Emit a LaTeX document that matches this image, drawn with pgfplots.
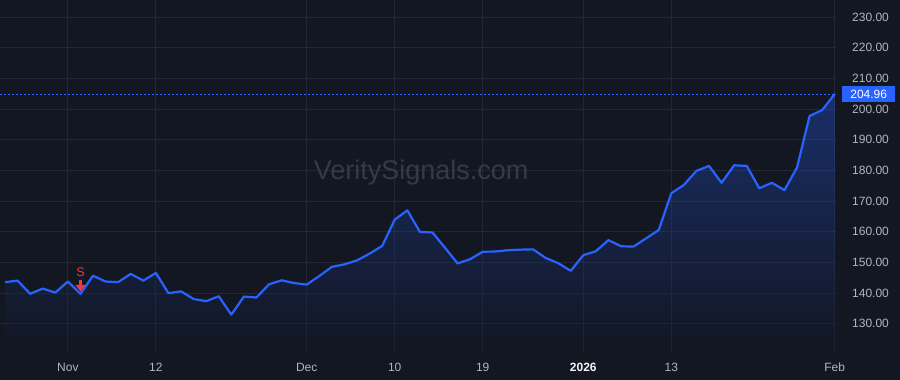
\documentclass[border=0pt]{standalone}
\usepackage{pgfplots}
\pgfplotsset{compat=1.18}
\usepackage{pgfplotstable}
\usetikzlibrary{arrows.meta}
\usepackage{fontspec}
\setmainfont{Liberation Sans}
\definecolor{bg}{HTML}{131722}
\definecolor{gridc}{HTML}{232733}
\definecolor{tvblue}{HTML}{2962FF}
\definecolor{lbl}{HTML}{B2B5BE}
\definecolor{wm}{HTML}{363A45}
\definecolor{sred}{HTML}{F23645}

\pgfplotstableread{
idx val
0 143.6
1 144.1
2 139.8
3 141.5
4 140.2
5 143.8
6 139.8
7 145.7
8 143.8
9 143.6
10 146.3
11 144.1
12 146.6
13 140.0
14 140.6
15 138.1
16 137.4
17 139.0
18 133.0
19 138.9
20 138.6
21 142.9
22 144.2
23 143.3
24 142.8
25 145.6
26 148.6
27 149.4
28 150.7
29 152.9
30 155.4
31 164.0
32 167.0
33 160.0
34 159.8
35 154.8
36 149.7
37 151.1
38 153.5
39 153.6
40 154.0
41 154.2
42 154.3
43 151.5
44 149.8
45 147.3
46 152.4
47 153.7
48 157.3
49 155.3
50 155.2
51 157.9
52 160.6
53 172.6
54 175.3
55 179.9
56 181.5
57 176.0
58 181.7
59 181.5
60 174.2
61 176.0
62 173.6
63 181.0
64 197.8
65 199.7
66 204.96
}\pricedata

\begin{document}
\begin{tikzpicture}
\fill[bg] (0,0) rectangle (900bp,380bp);
\useasboundingbox (0,0) rectangle (900bp,380bp);
\begin{axis}[
  at={(0,27bp)}, anchor=south west,
  scale only axis, width=836bp, height=353bp,
  xmin=-0.4, xmax=66.1, ymin=120.5, ymax=235.6,
  axis line style={draw=none},
  major tick length=0pt,
  clip=false,
  grid=major,
  major grid style={color=gridc, line width=0.8bp},
  xtick={5,12,24,31,38,46,53,66},
  xticklabels={Nov,12,Dec,10,19,{\textbf{\color{white!85!lbl}2026}},13,Feb},
  ytick={130,140,...,230},
  yticklabel pos=right,
  /pgf/number format/.cd, fixed, fixed zerofill, precision=2, 1000 sep={}, assume math mode=true,
  /pgfplots/.cd,
  tick label style={font=\fontsize{12bp}{14bp}\selectfont, text=lbl},
  xticklabel style={anchor=base, yshift=-18.5bp, inner sep=0pt},
  yticklabel style={anchor=west, xshift=16bp, inner sep=0pt},
]
\node[text=wm, font=\fontsize{27bp}{30bp}\selectfont] at (axis cs:33.1,179.5) {VeritySignals.com};
\addplot[top color=tvblue, bottom color=bg, draw=none, fill opacity=0.32] table[x=idx, y=val] {\pricedata} -- (axis cs:66,120.5) -- (axis cs:0,120.5) -- cycle;
\addplot[tvblue, line width=0.9bp, dash pattern=on 2bp off 2bp] coordinates {(-0.4,204.96) (66.1,204.96)};
\addplot[tvblue, line width=2.2bp, line join=round] table[x=idx, y=val] {\pricedata};
\addplot[sred, line width=3.2bp, -{Triangle[width=10bp,length=6.5bp]}] coordinates {(6,144.3) (6,140.6)};
\node[text=sred, font=\fontsize{12.5bp}{14bp}\selectfont] at (axis cs:6,147.0) {S};
\node[anchor=west, xshift=6bp, fill=tvblue, text=white, inner sep=0pt, minimum width=53bp, minimum height=16bp, font=\fontsize{12bp}{14bp}\selectfont] at (axis cs:66.1,204.96) {204.96};
\end{axis}
\end{tikzpicture}
\end{document}
